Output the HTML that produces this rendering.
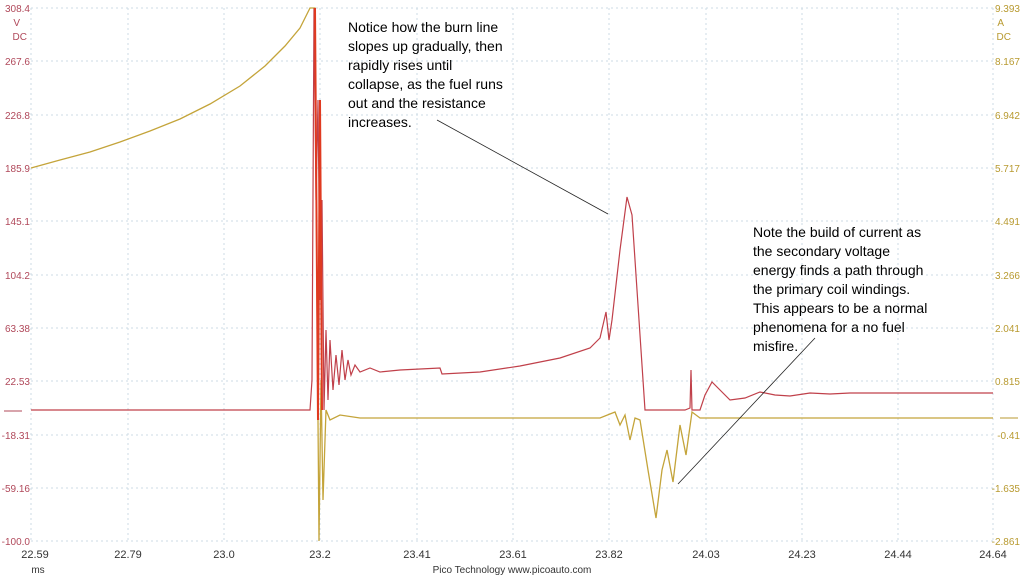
<!DOCTYPE html>
<html><head><style>
body{margin:0;background:#fff;width:1024px;height:576px;overflow:hidden;font-family:"Liberation Sans",sans-serif}
</style></head><body>
<svg width="1024" height="576" xmlns="http://www.w3.org/2000/svg" font-family="Liberation Sans, sans-serif">
<g stroke="#ccdbe4" stroke-dasharray="2,3" stroke-width="1">
<line x1="31" y1="8" x2="993" y2="8"/><line x1="31" y1="61" x2="993" y2="61"/><line x1="31" y1="115" x2="993" y2="115"/><line x1="31" y1="168" x2="993" y2="168"/><line x1="31" y1="221" x2="993" y2="221"/><line x1="31" y1="275" x2="993" y2="275"/><line x1="31" y1="328" x2="993" y2="328"/><line x1="31" y1="381" x2="993" y2="381"/><line x1="31" y1="435" x2="993" y2="435"/><line x1="31" y1="488" x2="993" y2="488"/><line x1="31" y1="541" x2="993" y2="541"/>
<line x1="31" y1="8" x2="31" y2="541"/><line x1="128" y1="8" x2="128" y2="541"/><line x1="224" y1="8" x2="224" y2="541"/><line x1="320" y1="8" x2="320" y2="541"/><line x1="417" y1="8" x2="417" y2="541"/><line x1="513" y1="8" x2="513" y2="541"/><line x1="609" y1="8" x2="609" y2="541"/><line x1="706" y1="8" x2="706" y2="541"/><line x1="802" y1="8" x2="802" y2="541"/><line x1="898" y1="8" x2="898" y2="541"/><line x1="993" y1="8" x2="993" y2="541"/>
</g>
<g fill="#b0485a" font-size="10" text-anchor="end">
<text x="30" y="12">308.4</text><text x="20" y="26">V</text><text x="27" y="40">DC</text>
<text x="30" y="65">267.6</text><text x="30" y="119">226.8</text><text x="30" y="172">185.9</text><text x="30" y="225">145.1</text><text x="30" y="279">104.2</text><text x="30" y="332">63.38</text><text x="30" y="385">22.53</text><text x="30" y="439">-18.31</text><text x="30" y="492">-59.16</text><text x="30" y="545">-100.0</text>
</g>
<line x1="4" y1="411" x2="22" y2="411" stroke="#b0485a"/>
<g fill="#b89a30" font-size="10" text-anchor="end">
<text x="1020" y="12">9.393</text><text x="1004" y="26">A</text><text x="1011" y="40">DC</text>
<text x="1020" y="65">8.167</text><text x="1020" y="119">6.942</text><text x="1020" y="172">5.717</text><text x="1020" y="225">4.491</text><text x="1020" y="279">3.266</text><text x="1020" y="332">2.041</text><text x="1020" y="385">0.815</text><text x="1020" y="439">-0.41</text><text x="1020" y="492">-1.635</text><text x="1020" y="545">-2.861</text>
</g>
<line x1="1000" y1="418" x2="1018" y2="418" stroke="#b89a30"/>
<g fill="#333" font-size="11" text-anchor="middle">
<text x="35" y="558">22.59</text><text x="128" y="558">22.79</text><text x="224" y="558">23.0</text><text x="320" y="558">23.2</text><text x="417" y="558">23.41</text><text x="513" y="558">23.61</text><text x="609" y="558">23.82</text><text x="706" y="558">24.03</text><text x="802" y="558">24.23</text><text x="898" y="558">24.44</text><text x="993" y="558">24.64</text>
<text x="38" y="573" font-size="10">ms</text><text x="512" y="573" font-size="10">Pico Technology   www.picoauto.com</text>
</g>
<path d="M31,168 L60,160 L90,152 L120,142 L150,131 L180,119 L210,104 L240,86 L265,66 L285,46 L300,28 L310,8 L315,8 L317,300 L319,541 L321,380 L323,500 L326,410 L330,420 L340,415 L360,418 L600,418 L615,412 L620,425 L625,415 L630,440 L635,418 L640,420 L648,470 L656,518 L662,470 L667,450 L673,482 L680,425 L686,455 L692,412 L700,418 L993,418" fill="none" stroke="#c4a43a" stroke-width="1.3"/>
<path d="M31,410 L310,410 L312,380 L314,8 L316,200 L318,100 L320,300 L322,200 L324,410 L326,330 L328,400 L330,340 L333,390 L336,355 L339,385 L342,350 L345,380 L348,360 L351,375 L355,365 L360,372 L370,368 L380,372 L400,370 L440,368 L442,374 L480,372 L520,366 L560,358 L590,348 L600,338 L606,312 L609,340 L612,320 L620,250 L627,197 L632,215 L637,290 L645,410 L685,410 L690,408 L691,370 L692,410 L700,410 L705,395 L712,382 L720,390 L730,400 L745,398 L760,392 L775,395 L790,396 L810,393 L830,394 L850,393 L993,393" fill="none" stroke="#c0404a" stroke-width="1.2"/>
<path d="M315,8 L318,420 L320,100 L322,410" fill="none" stroke="#e03a20" stroke-width="2"/>
<g stroke="#222" stroke-width="0.8"><line x1="437" y1="120" x2="608" y2="214"/><line x1="678" y1="484" x2="815" y2="338"/></g>
<g font-size="14" fill="#000">
<text x="348" y="32">Notice how the burn line</text>
<text x="348" y="51">slopes up gradually, then</text>
<text x="348" y="70">rapidly rises until</text>
<text x="348" y="89">collapse, as the fuel runs</text>
<text x="348" y="108">out and the resistance</text>
<text x="348" y="127">increases.</text>
<text x="753" y="237">Note the build of current as</text>
<text x="753" y="256">the secondary voltage</text>
<text x="753" y="275">energy finds a path through</text>
<text x="753" y="294">the primary coil windings.</text>
<text x="753" y="313">This appears to be a normal</text>
<text x="753" y="332">phenomena for a no fuel</text>
<text x="753" y="351">misfire.</text>
</g>
</svg>
</body></html>
